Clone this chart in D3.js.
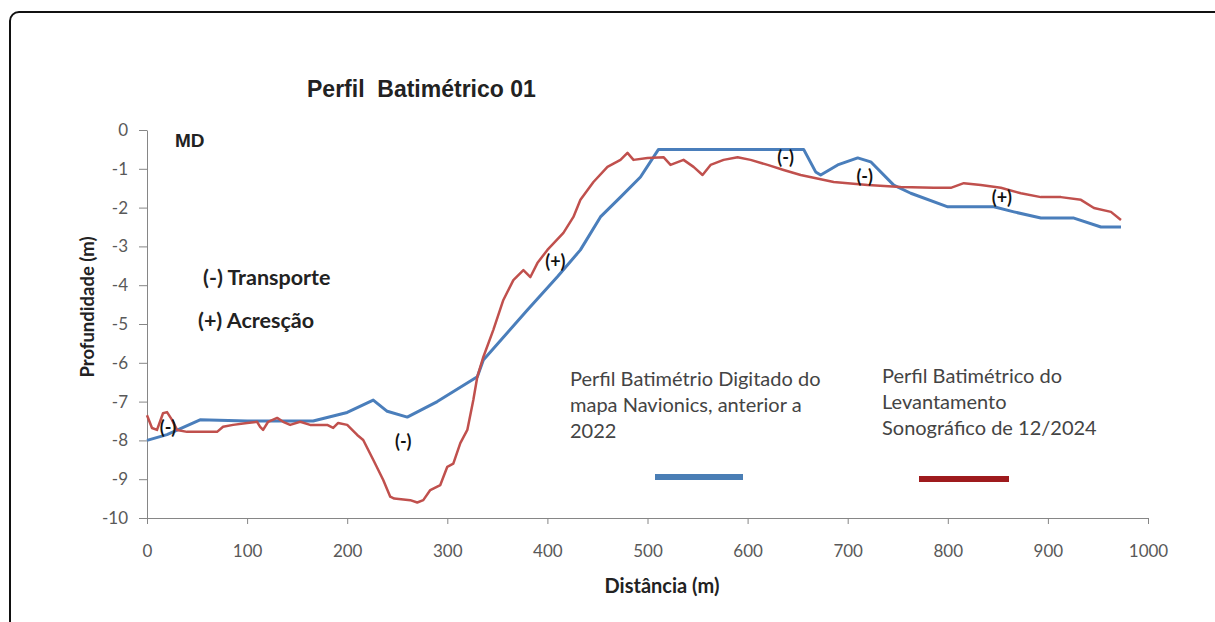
<!DOCTYPE html>
<html>
<head>
<meta charset="utf-8">
<script src="https://cdn.jsdelivr.net/npm/d3@7"></script>
<style>
body { margin: 0; background: #fff; }
.tick text { font-family: Lato, sans-serif; font-size: 17px; fill: #595959; }
.axis path, .axis line { stroke: #868686; }
</style>
</head>
<body>
<div id="chart"></div>
<script>
const w = 1215;
const h = 622;

// Perfil digitado do mapa Navionics (azul)
const distNav  = [0, 20, 53, 100, 166, 200, 226, 240, 260, 290, 330, 336, 380, 410, 433, 453, 473, 493, 511, 560, 620, 656, 668, 673, 690, 710, 723, 746, 763, 800, 846, 866, 893, 926, 953, 973];
const depthNav = [-8.0, -7.85, -7.47, -7.5, -7.5, -7.28, -6.96, -7.25, -7.4, -7.0, -6.36, -5.93, -4.64, -3.78, -3.09, -2.24, -1.73, -1.21, -0.5, -0.5, -0.5, -0.5, -1.08, -1.16, -0.9, -0.72, -0.82, -1.42, -1.63, -1.98, -1.98, -2.11, -2.27, -2.27, -2.5, -2.5];

// Perfil do levantamento sonografico 12/2024 (vermelho)
const distSon  = [0, 5, 10, 16, 20, 25, 30, 40, 60, 70, 76, 86, 100, 110, 113, 116, 121, 130, 136, 143, 153, 163, 180, 186, 191, 200, 210, 216, 226, 236, 243, 247, 263, 270, 276, 283, 293, 300, 306, 313, 320, 326, 330, 336, 346, 356, 366, 376, 383, 390, 400, 416, 426, 433, 446, 460, 473, 480, 486, 500, 516, 523, 536, 546, 555, 563, 576, 590, 603, 620, 636, 653, 686, 720, 753, 786, 803, 816, 833, 853, 873, 893, 913, 933, 946, 963, 973];
const depthSon = [-7.35, -7.68, -7.73, -7.3, -7.27, -7.47, -7.73, -7.78, -7.78, -7.78, -7.65, -7.6, -7.55, -7.52, -7.65, -7.73, -7.52, -7.42, -7.52, -7.6, -7.52, -7.6, -7.6, -7.68, -7.55, -7.6, -7.86, -7.99, -8.5, -9.02, -9.45, -9.5, -9.54, -9.6, -9.54, -9.28, -9.15, -8.68, -8.6, -8.07, -7.73, -6.96, -6.36, -5.85, -5.15, -4.38, -3.87, -3.61, -3.79, -3.43, -3.09, -2.65, -2.24, -1.8, -1.34, -0.95, -0.77, -0.59, -0.77, -0.72, -0.7, -0.9, -0.77, -0.95, -1.16, -0.9, -0.77, -0.7, -0.77, -0.9, -1.03, -1.16, -1.34, -1.42, -1.47, -1.49, -1.49, -1.37, -1.42, -1.49, -1.63, -1.73, -1.73, -1.8, -2.01, -2.11, -2.32];

const xTicks = [0, 100, 200, 300, 400, 500, 600, 700, 800, 900, 1000];
const yTicks = [0, -1, -2, -3, -4, -5, -6, -7, -8, -9, -10];

// marcas (+)/(-) sobre as curvas
const noteText = ["(-)", "(-)", "(+)", "(-)", "(-)", "(+)"];
const noteDist = [21, 256, 408, 638, 717, 854];
const noteDepth = [-7.68, -8.04, -3.4, -0.72, -1.21, -1.75];

const legendText1 = ["Perfil Batimétrio Digitado do", "mapa Navionics, anterior a", "2022"];
const legendText2 = ["Perfil Batimétrico do", "Levantamento", "Sonográfico de 12/2024"];

const blue = "#4a7ebb";
const red = "#c0504d";

const svg = d3.select("#chart")
.append("svg")
.attr("width", w)
.attr("height", h);

svg.append("rect").attr("width", w).attr("height", h).attr("fill", "#fff");

//Frame (goes off the right and bottom of the picture)
svg.append("rect")
.attr("x", 10).attr("y", 12)
.attr("width", w + 20).attr("height", h + 20)
.attr("rx", 9)
.attr("fill", "none")
.attr("stroke", "#111")
.attr("stroke-width", 2);

//Scales
const x = d3.scaleLinear().domain([0, 1000]).range([147, 1148]);
const y = d3.scaleLinear().domain([-10, 0]).range([518, 130]);

//Axes (plain hyphen, no thousands separator, like Excel)
svg.append("g")
.attr("class", "axis")
.attr("transform", "translate(0,518)")
.call(d3.axisBottom(x).tickValues(xTicks).tickFormat(d => String(d)).tickSize(6).tickSizeOuter(0).tickPadding(21));

svg.append("g")
.attr("class", "axis")
.attr("transform", "translate(147,0)")
.call(d3.axisLeft(y).tickValues(yTicks).tickFormat(d => String(d)).tickSize(8).tickSizeOuter(0).tickPadding(11));

//Lines
const line = d3.line().x(d => x(d[0])).y(d => y(d[1]));

svg.append("path")
.datum(distNav.map((d, i) => [d, depthNav[i]]))
.attr("d", line)
.attr("fill", "none")
.attr("stroke", blue)
.attr("stroke-width", 3)
.attr("stroke-linejoin", "round");

svg.append("path")
.datum(distSon.map((d, i) => [d, depthSon[i]]))
.attr("d", line)
.attr("fill", "none")
.attr("stroke", red)
.attr("stroke-width", 2.5)
.attr("stroke-linejoin", "round");

//Notes on the curves
svg.append("g").selectAll("text")
.data(noteText)
.enter()
.append("text")
.attr("x", (d, i) => x(noteDist[i]))
.attr("y", (d, i) => y(noteDepth[i]))
.attr("dy", "0.35em")
.attr("text-anchor", "middle")
.style("font-family", "Lato, sans-serif")
.style("font-weight", "bold")
.style("font-size", "18px")
.attr("fill", "#111")
.text(d => d);

//Title
svg.append("text")
.attr("x", 307).attr("y", 97)
.style("font-family", "'Liberation Sans', Arial, sans-serif")
.style("font-weight", "bold")
.style("font-size", "23px")
.attr("fill", "#222")
.attr("xml:space", "preserve")
.text("Perfil  Batimétrico 01");

svg.append("text")
.attr("x", 175).attr("y", 147)
.style("font-family", "'Liberation Sans', Arial, sans-serif")
.style("font-weight", "bold")
.style("font-size", "19px")
.attr("fill", "#222")
.text("MD");

svg.append("text")
.attr("x", 203).attr("y", 285)
.style("font-family", "Lato, sans-serif")
.style("font-weight", "bold")
.style("font-size", "21.5px")
.attr("fill", "#222")
.text("(-) Transporte");

svg.append("text")
.attr("x", 198).attr("y", 328)
.style("font-family", "Lato, sans-serif")
.style("font-weight", "bold")
.style("font-size", "21.5px")
.attr("fill", "#222")
.text("(+) Acresção");

//Axis titles
svg.append("text")
.attr("transform", "translate(94,307) rotate(-90)")
.attr("text-anchor", "middle")
.style("font-family", "Lato, sans-serif")
.style("font-weight", "bold")
.style("font-size", "18.5px")
.attr("fill", "#222")
.text("Profundidade (m)");

svg.append("text")
.attr("x", 662).attr("y", 593)
.attr("text-anchor", "middle")
.style("font-family", "Lato, sans-serif")
.style("font-weight", "bold")
.style("font-size", "20px")
.attr("fill", "#222")
.text("Distância (m)");

//Legend blocks
const legend = svg.append("g").attr("id", "legend");

legend.append("g").selectAll("text")
.data(legendText1).enter()
.append("text")
.attr("x", 570)
.attr("y", (d, i) => 386 + i * 26)
.style("font-family", "Lato, sans-serif")
.style("font-size", "20px")
.attr("fill", "#444")
.text(d => d);

legend.append("g").selectAll("text")
.data(legendText2).enter()
.append("text")
.attr("x", 882)
.attr("y", (d, i) => 383 + i * 26)
.style("font-family", "Lato, sans-serif")
.style("font-size", "20px")
.attr("fill", "#444")
.text(d => d);

legend.append("line")
.attr("x1", 655).attr("x2", 743)
.attr("y1", 477).attr("y2", 477)
.attr("stroke", "#4a7eb5")
.attr("stroke-width", 6);

legend.append("line")
.attr("x1", 919).attr("x2", 1009)
.attr("y1", 479).attr("y2", 479)
.attr("stroke", "#9e1a1d")
.attr("stroke-width", 6);
</script>
</body>
</html>
